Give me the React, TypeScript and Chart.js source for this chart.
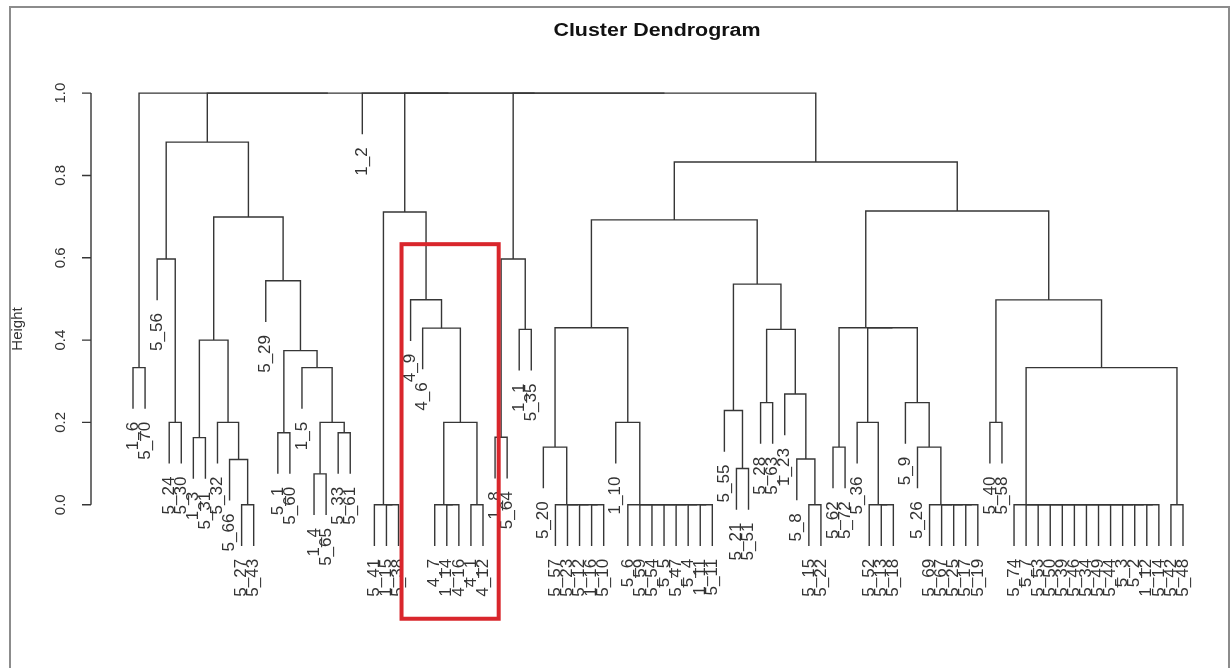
import React, { useEffect, useRef } from "react";
import { Chart, registerables } from "chart.js";

Chart.register(...registerables);

// ---------- data ----------
const yTickValues = [0, 0.2, 0.4, 0.6, 0.8, 1.0];
const yTickLabels = ["0.0", "0.2", "0.4", "0.6", "0.8", "1.0"];
const HANG = 0.1;

// highlighted cluster (leaf-index / height units)
const highlightX = [23.25, 31.3];
const highlightY = [-0.277, 0.633];

// tied groups (merged at height 0)
const tieA = ["5_41", "1_15", "5_38"];
const tieB = ["4_7", "1_14", "4_16"];
const tieC = ["4_1", "4_12"];
const tieD = ["5_57", "5_23", "5_12", "1_16", "5_10"];
const tieE = ["5_6", "5_59", "5_54", "5_5", "5_47", "5_4", "1_11", "5_11"];
const tieF = ["5_52", "5_13", "5_18"];
const tieG = ["5_69", "5_67", "5_25", "5_17", "5_19"];
const tieH = ["5_74", "5_7", "5_53", "5_50", "5_39", "5_46", "5_34", "5_49", "5_44", "5_3", "5_2", "1_12", "5_14"];
const tieI = ["5_42", "5_48"];
const tieJ = ["5_27", "5_43"];
const tieK = ["5_15", "5_22"];

type Tree = string | { h: number; c: Tree[] };
const N = (h: number, ...c: Tree[]): Tree => ({ h, c });

const tree: Tree = N(
  1.0,
  N(0.333, "1_6", "5_70"),
  N(
    0.881,
    N(0.597, "5_56", N(0.2, "5_24", "5_30")),
    N(
      0.699,
      N(0.4, N(0.163, "1_3", "5_31"), N(0.2, "5_32", N(0.11, "5_66", N(0, ...tieJ)))),
      N(
        0.544,
        "5_29",
        N(
          0.3745,
          N(0.175, "5_1", "5_60"),
          N(0.333, "1_5", N(0.2, N(0.075, "1_4", "5_65"), N(0.175, "5_33", "5_61")))
        )
      )
    )
  ),
  "1_2",
  N(
    0.711,
    N(0, ...tieA),
    N(0.498, "4_9", N(0.429, "4_6", N(0.2, N(0, ...tieB), N(0, ...tieC))))
  ),
  N(0.597, N(0.164, "1_8", "5_64"), N(0.426, "1_1", "5_35")),
  N(
    0.8325,
    N(
      0.692,
      N(0.43, N(0.14, "5_20", N(0, ...tieD)), N(0.2, "1_10", N(0, ...tieE))),
      N(
        0.536,
        N(0.229, "5_55", N(0.088, "5_21", "5_51")),
        N(0.426, N(0.248, "5_28", "5_63"), N(0.269, "1_23", N(0.111, "5_8", N(0, ...tieK))))
      )
    ),
    N(
      0.7136,
      N(
        0.43,
        N(0.14, "5_62", "5_72"),
        N(0.2, "5_36", N(0, ...tieF)),
        N(0.248, "5_9", N(0.14, "5_26", N(0, ...tieG)))
      ),
      N(0.4976, N(0.2, "5_40", "5_58"), N(0.333, N(0, ...tieH), N(0, ...tieI)))
    )
  )
);

// ---------- layout from tree ----------
type Pt = { x: number; y: number };
type LeafInfo = { label: string; x: number; end: number };

function buildLayout(root: Tree) {
  const segs: Pt[][] = [];
  const leaves: LeafInfo[] = [];
  let counter = 0;
  function walk(t: Tree): { x: number; h: number; leafIdx: number } {
    if (typeof t === "string") {
      counter += 1;
      leaves.push({ label: t, x: counter, end: 0 });
      return { x: counter, h: 0, leafIdx: leaves.length - 1 };
    }
    let kids = t.c;
    if (kids.length > 2) kids = [kids[0], N(t.h, ...kids.slice(1))];
    const L = walk(kids[0]);
    const R = walk(kids[1]);
    const yl = L.leafIdx >= 0 ? t.h - HANG : L.h;
    const yr = R.leafIdx >= 0 ? t.h - HANG : R.h;
    if (L.leafIdx >= 0) leaves[L.leafIdx].end = yl;
    if (R.leafIdx >= 0) leaves[R.leafIdx].end = yr;
    segs.push([
      { x: L.x, y: yl },
      { x: L.x, y: t.h },
      { x: R.x, y: t.h },
      { x: R.x, y: yr },
    ]);
    return { x: (L.x + R.x) / 2, h: t.h, leafIdx: -1 };
  }
  walk(root);
  return { segs, leaves, n: counter };
}

const LINE = "#363636";
const FONT = '"Liberation Sans", Arial, sans-serif';

export default function App() {
  const ref = useRef<HTMLCanvasElement>(null);
  useEffect(() => {
    if (!ref.current) return;
    const { segs, leaves, n } = buildLayout(tree);
    const ext = (n - 1) * 0.04;
    const yExt = (1.0 + HANG) * 0.04;

    const overlay = {
      id: "dendroOverlay",
      afterDraw(chart: any) {
        const ctx = chart.ctx as CanvasRenderingContext2D;
        const xs = chart.scales.x;
        const ys = chart.scales.y;
        const area = chart.chartArea;
        ctx.save();
        // frame
        ctx.strokeStyle = "#8c8c8c";
        ctx.lineWidth = 2;
        ctx.strokeRect(10, 7, 1219, 700);
        // title
        ctx.fillStyle = "#111";
        ctx.font = `bold 18px ${FONT}`;
        ctx.textAlign = "center";
        ctx.textBaseline = "alphabetic";
        ctx.save();
        ctx.translate(657, 36);
        ctx.scale(1.19, 1);
        ctx.fillText("Cluster Dendrogram", 0, 0);
        ctx.restore();
        // y axis
        const ax = area.left;
        ctx.strokeStyle = LINE;
        ctx.lineWidth = 1.4;
        ctx.beginPath();
        ctx.moveTo(ax, ys.getPixelForValue(yTickValues[0]));
        ctx.lineTo(ax, ys.getPixelForValue(yTickValues[yTickValues.length - 1]));
        yTickValues.forEach((v) => {
          const py = ys.getPixelForValue(v);
          ctx.moveTo(ax, py);
          ctx.lineTo(ax - 9, py);
        });
        ctx.stroke();
        ctx.fillStyle = "#333";
        ctx.font = `15px ${FONT}`;
        ctx.textAlign = "center";
        ctx.textBaseline = "middle";
        yTickValues.forEach((v, i) => {
          ctx.save();
          ctx.translate(61, ys.getPixelForValue(v));
          ctx.rotate(-Math.PI / 2);
          ctx.fillText(yTickLabels[i], 0, 0);
          ctx.restore();
        });
        // axis title
        ctx.save();
        ctx.translate(18, 329);
        ctx.rotate(-Math.PI / 2);
        ctx.fillText("Height", 0, 0);
        ctx.restore();
        // leaf labels
        ctx.font = `17px ${FONT}`;
        ctx.textAlign = "right";
        ctx.textBaseline = "middle";
        leaves.forEach((l) => {
          const px = xs.getPixelForValue(l.x);
          const py = ys.getPixelForValue(l.end) + 13;
          ctx.save();
          ctx.translate(px, py);
          ctx.rotate(-Math.PI / 2);
          ctx.fillText(l.label, 0, 0);
          ctx.restore();
        });
        // highlight box
        const bx0 = xs.getPixelForValue(highlightX[0]);
        const bx1 = xs.getPixelForValue(highlightX[1]);
        const by0 = ys.getPixelForValue(highlightY[1]);
        const by1 = ys.getPixelForValue(highlightY[0]);
        ctx.strokeStyle = "#d9262c";
        ctx.lineWidth = 4;
        ctx.strokeRect(bx0, by0, bx1 - bx0, by1 - by0);
        ctx.restore();
      },
    };

    const chart = new Chart(ref.current, {
      type: "line",
      data: {
        datasets: segs.map((pts) => ({
          data: pts,
          borderColor: LINE,
          borderWidth: 1.4,
          pointRadius: 0,
          fill: false,
          tension: 0,
        })),
      },
      options: {
        animation: false,
        responsive: false,
        events: [],
        layout: { padding: { left: 91, right: 6, top: 75, bottom: 104 } },
        plugins: {
          legend: { display: false },
          tooltip: { enabled: false },
          title: { display: false },
        },
        scales: {
          x: { type: "linear", min: 1 - ext, max: n + ext, display: false },
          y: { type: "linear", min: -HANG - yExt, max: 1.0 + yExt, display: false },
        },
      },
      plugins: [overlay],
    } as any);
    return () => chart.destroy();
  }, []);

  return (
    <div
      style={{
        position: "fixed",
        left: 0,
        top: 0,
        width: 1231,
        height: 668,
        background: "#fff",
      }}
    >
      <canvas ref={ref} width={1231} height={668} style={{ width: 1231, height: 668 }} />
    </div>
  );
}
